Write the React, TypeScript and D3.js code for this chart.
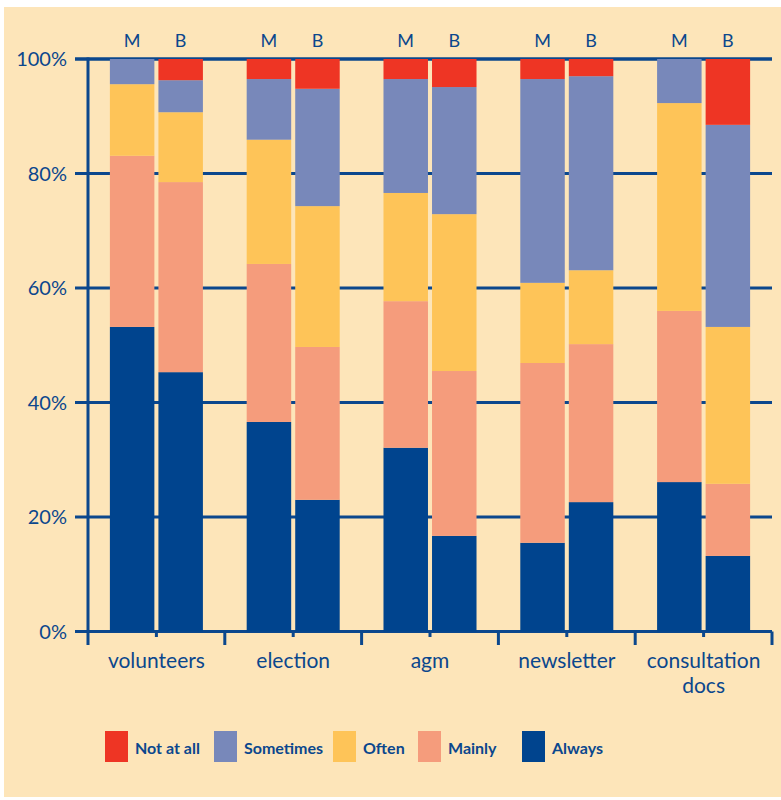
import React from 'react'
import * as d3 from 'd3'

// values, % of respondents, order: M, B per category
const categories = ['volunteers', 'election', 'agm', 'newsletter', 'consultation docs']
const groups = ['M', 'B']
const seriesNames = ['Always', 'Mainly', 'Often', 'Sometimes', 'Not at all']
const always = [53.2, 45.3, 36.6, 23.0, 32.1, 16.7, 15.5, 22.6, 26.1, 13.2]
const mainly = [29.9, 33.2, 27.6, 26.7, 25.6, 28.8, 31.4, 27.6, 29.9, 12.6]
const often = [12.5, 12.2, 21.7, 24.6, 18.9, 27.4, 14.0, 12.9, 36.3, 27.4]
const sometimes = [4.4, 5.6, 10.6, 20.5, 19.9, 22.2, 35.6, 33.9, 7.7, 35.3]
const notAtAll = [0, 3.7, 3.5, 5.2, 3.5, 4.9, 3.5, 3.0, 0, 11.5]
const yTicks = [0, 20, 40, 60, 80, 100]
const legendOrder = ['Not at all', 'Sometimes', 'Often', 'Mainly', 'Always']

const colors: Record<string, string> = {
  Always: '#00448e',
  Mainly: '#f59c7c',
  Often: '#fec458',
  Sometimes: '#7888ba',
  'Not at all': '#ee3524',
}
const ink = '#0b478d'
const bg = '#fde5b9'

const App: React.FC = () => {
  const width = 781
  const height = 800
  const left = 88
  const right = 772
  const top = 59
  const bottom = 631.5

  const rows = categories.flatMap((c, i) =>
    groups.map((g, j) => {
      const k = i * 2 + j
      return {
        key: c + '|' + g,
        cat: c,
        grp: g,
        Always: always[k],
        Mainly: mainly[k],
        Often: often[k],
        Sometimes: sometimes[k],
        'Not at all': notAtAll[k],
      }
    }),
  )

  const x0 = d3.scaleBand().domain(categories).range([left, right])
  const bw = x0.bandwidth()
  const x1 = d3
    .scaleBand()
    .domain(groups)
    .range([bw * 0.16, bw * 0.84])
    .paddingInner(4 / 48)
  const y = d3.scaleLinear().domain([0, 100]).range([bottom, top])

  const stacked = d3.stack<any>().keys(seriesNames)(rows)

  // legend swatch positions, left edges as in the reference
  const legendPos: Record<string, number> = { 'Not at all': 105, Sometimes: 214, Often: 333, Mainly: 418, Always: 522 }

  return (
    <svg width={width} height={height} style={{ position: 'absolute', left: 0, top: 0 }} fontFamily="Lato, 'Open Sans', sans-serif">
      <rect x={4} y={7} width={777} height={790} fill={bg} />

      {/* gridlines */}
      {yTicks.map(t => (
        <g key={t}>
          <line x1={75} x2={right} y1={y(t)} y2={y(t)} stroke={ink} strokeWidth={t === 100 ? 3.5 : 3} />
          <text x={67} y={y(t)} dy="0.36em" textAnchor="end" fontSize={20} fill={ink}>
            {t}%
          </text>
        </g>
      ))}

      {/* bars */}
      {stacked.map(s => (
        <g key={s.key} fill={colors[s.key]}>
          {s.map((d: any) => (
            <rect
              key={d.data.key}
              x={(x0(d.data.cat) as number) + (x1(d.data.grp) as number)}
              width={x1.bandwidth()}
              y={y(d[1])}
              height={Math.max(0, y(d[0]) - y(d[1]))}
            />
          ))}
        </g>
      ))}

      {/* y axis line */}
      <line x1={left} x2={left} y1={top - 1.5} y2={645} stroke={ink} strokeWidth={3} />
      {/* x ticks */}
      {categories.map(c => (
        <g key={c}>
          <line x1={(x0(c) as number) + bw} x2={(x0(c) as number) + bw} y1={bottom} y2={645} stroke={ink} strokeWidth={3} />
          <line x1={(x0(c) as number) + bw / 2} x2={(x0(c) as number) + bw / 2} y1={bottom} y2={637} stroke={ink} strokeWidth={3} />
        </g>
      ))}

      {/* category labels */}
      {categories.map(c => {
        const words = c === 'consultation docs' ? ['consultation', 'docs'] : [c]
        return (
          <text key={c} x={(x0(c) as number) + bw / 2} y={668} textAnchor="middle" fontSize={21} fill={ink}>
            {words.map((w, i) => (
              <tspan key={w} x={(x0(c) as number) + bw / 2} dy={i === 0 ? 0 : 25}>
                {w}
              </tspan>
            ))}
          </text>
        )
      })}

      {/* M / B labels */}
      {categories.map(c =>
        groups.map(g => (
          <text
            key={c + g}
            x={(x0(c) as number) + (x1(g) as number) + x1.bandwidth() / 2}
            y={47}
            textAnchor="middle"
            fontSize={18}
            fill={ink}
          >
            {g}
          </text>
        )),
      )}

      {/* legend */}
      {legendOrder.map(n => {
        const lx = legendPos[n]
        return (
          <g key={n}>
            <rect x={lx} y={731} width={23} height={31} fill={colors[n]} />
            <text x={lx + 30} y={754} fontSize={16} fontWeight="bold" fill={ink}>
              {n}
            </text>
          </g>
        )
      })}
    </svg>
  )
}

export default App
